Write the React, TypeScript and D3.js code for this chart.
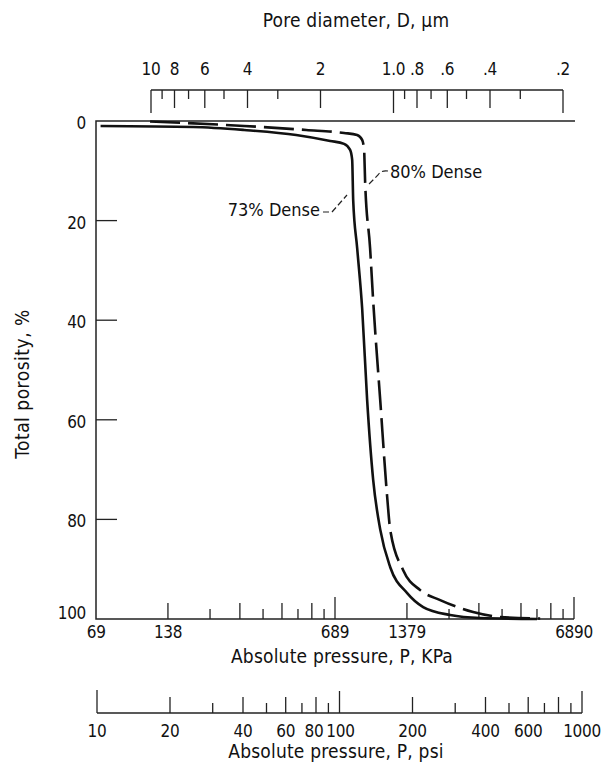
import React, { useEffect, useRef } from 'react'
import * as d3 from 'd3'

// 73% dense specimen: absolute pressure (kPa) vs total porosity (%)
const densePressure73 = [72, 176, 287, 474, 658, 752, 797, 813, 821, 853, 895, 939, 995, 1065, 1173, 1381, 1611, 2090, 2790, 4830]
const densePorosity73 = [1.0, 1.2, 1.8, 2.8, 4.0, 4.6, 5.8, 7.8, 15.9, 25.5, 37.6, 56, 72, 82, 89.6, 94.8, 97.6, 99.2, 99.8, 100]

// 80% dense specimen
const densePressure80 = [116, 287, 522, 752, 853, 895, 912, 921, 966, 995, 1065, 1139, 1173, 1329, 1565, 1898, 2607, 3383, 4975]
const densePorosity80 = [0.1, 1.0, 1.8, 2.4, 2.8, 3.8, 5.8, 12.2, 25.5, 36, 56, 75.5, 82.1, 90.2, 94.2, 96.2, 98.6, 99.6, 99.9]

const porosityTicks = [0, 20, 40, 60, 80, 100]
const kpaLabels = [69, 138, 689, 1379, 6890]
const psiTicks = [10, 20, 30, 40, 50, 60, 70, 80, 90, 100, 200, 300, 400, 500, 600, 700, 800, 900, 1000]
const psiLabels = [10, 20, 40, 60, 80, 100, 200, 400, 600, 1000]
const diameterTicks = [10, 9, 8, 7, 6, 5, 4, 3, 2, 1, 0.9, 0.8, 0.7, 0.6, 0.5, 0.4, 0.3, 0.2]
const diameterLabels = ['10', '8', '6', '4', '2', '1.0', '.8', '.6', '.4', '.2']

const FONT = '"DejaVu Sans Condensed", "Liberation Sans Narrow", sans-serif'

function PorosityChart() {
  const ref = useRef<SVGSVGElement>(null)

  useEffect(() => {
    const svg = d3.select(ref.current)
    svg.selectAll('*').remove()

    const left = 96
    const top = 121
    const bottom = 619
    const right = 574

    const x = d3.scaleLog().domain([68.9, 6890]).range([left, right])
    const y = d3.scaleLinear().domain([0, 100]).range([top, bottom])
    const xd = d3.scaleLog().domain([10, 0.2]).range([151, 563])
    const xp = d3.scaleLog().domain([10, 1000]).range([97, 582])

    const g = svg.append('g')
      .attr('font-family', FONT)
      .attr('fill', '#111')

    const title = (tx: number, ty: number, s: string) =>
      g.append('text')
        .attr('x', tx).attr('y', ty)
        .attr('dy', '0.35em')
        .attr('text-anchor', 'middle')
        .attr('font-size', 19)
        .attr('letter-spacing', 0.2)
        .text(s)

    const tickText = (sel: any) =>
      sel.attr('dy', '0.35em')
        .attr('font-size', 17)
        .attr('letter-spacing', -0.3)

    // Frame
    g.append('path')
      .attr('d', `M${right + 1},${top} H${left} V${bottom} H${right}`)
      .attr('fill', 'none')
      .attr('stroke', '#222')
      .attr('stroke-width', 1.5)

    // Y ticks + labels
    g.selectAll('.yt')
      .data(porosityTicks.filter(d => d > 0 && d < 100))
      .enter().append('line')
      .attr('x1', left).attr('x2', left + 21)
      .attr('y1', d => y(d)).attr('y2', d => y(d))
      .attr('stroke', '#222').attr('stroke-width', 1.3)

    g.selectAll('.yl')
      .data(porosityTicks)
      .enter().append('text')
      .attr('x', 86)
      .attr('y', d => y(d) + (d === 100 ? -6 : 2))
      .attr('text-anchor', 'end')
      .call(tickText)
      .text(d => String(d))

    g.append('text')
      .attr('transform', `translate(22, 384) rotate(-90)`)
      .attr('text-anchor', 'middle')
      .attr('dy', '0.35em')
      .attr('font-size', 19)
      .attr('letter-spacing', 0.5)
      .text('Total porosity, %')

    // Bottom kPa axis (ticks at psi-equivalent positions)
    const tickLen = (p: number) => {
      const m = p >= 100 ? p / 100 : p / 10
      if (p === 100 || p === 1000) return 22
      return m % 2 === 0 ? 16 : 10
    }

    g.selectAll('.kt')
      .data(psiTicks.filter(p => p > 10))
      .enter().append('line')
      .attr('x1', p => x(p * 6.89)).attr('x2', p => x(p * 6.89))
      .attr('y1', bottom).attr('y2', p => bottom - tickLen(p))
      .attr('stroke', '#222').attr('stroke-width', 1.3)

    g.selectAll('.kl')
      .data(kpaLabels)
      .enter().append('text')
      .attr('x', d => x(d))
      .attr('y', 632)
      .attr('text-anchor', 'middle')
      .call(tickText)
      .text(d => String(d))

    title(342, 656, 'Absolute pressure, P, KPa')

    // psi axis
    const pa = 713
    g.append('line')
      .attr('x1', xp(10)).attr('x2', xp(1000))
      .attr('y1', pa).attr('y2', pa)
      .attr('stroke', '#222').attr('stroke-width', 1.5)

    g.selectAll('.pt')
      .data(psiTicks)
      .enter().append('line')
      .attr('x1', p => xp(p)).attr('x2', p => xp(p))
      .attr('y1', pa).attr('y2', p => pa - (p === 10 ? 23 : tickLen(p)))
      .attr('stroke', '#222').attr('stroke-width', 1.3)

    g.selectAll('.pl')
      .data(psiLabels)
      .enter().append('text')
      .attr('x', d => xp(d) + (d === 80 ? -2 : d === 100 ? 1 : 0))
      .attr('y', 731)
      .attr('text-anchor', 'middle')
      .call(tickText)
      .text(d => String(d))

    title(336, 751, 'Absolute pressure, P, psi')

    // Top pore diameter axis
    const da = 90
    g.append('line')
      .attr('x1', xd(10)).attr('x2', xd(0.2))
      .attr('y1', da).attr('y2', da)
      .attr('stroke', '#222').attr('stroke-width', 1.5)

    const labelled = diameterLabels.map(s => +s)
    g.selectAll('.dt')
      .data(diameterTicks)
      .enter().append('line')
      .attr('x1', d => xd(d)).attr('x2', d => xd(d))
      .attr('y1', da)
      .attr('y2', d => da + (d === 10 || d === 1 || d === 0.2 ? 23 : labelled.includes(d) ? 18 : 9))
      .attr('stroke', '#222').attr('stroke-width', 1.3)

    g.selectAll('.dl')
      .data(diameterLabels)
      .enter().append('text')
      .attr('x', d => xd(+d))
      .attr('y', 69)
      .attr('text-anchor', 'middle')
      .call(tickText)
      .text(d => d)

    title(356, 20, 'Pore diameter, D, \u00b5m')

    // Curves
    const line = d3.line<[number, number]>()
      .x(d => x(d[0]))
      .y(d => y(d[1]))
      .curve(d3.curveMonotoneX)

    g.append('path')
      .datum(d3.zip(densePressure73, densePorosity73) as [number, number][])
      .attr('d', line)
      .attr('fill', 'none')
      .attr('stroke', '#111')
      .attr('stroke-width', 2.6)

    g.append('path')
      .datum(d3.zip(densePressure80, densePorosity80) as [number, number][])
      .attr('d', line)
      .attr('fill', 'none')
      .attr('stroke', '#111')
      .attr('stroke-width', 2.6)
      .attr('stroke-dasharray', '30,8')

    // Annotations
    g.append('text')
      .attr('x', 390).attr('y', 172)
      .attr('dy', '0.35em')
      .attr('font-size', 18)
      .text('80% Dense')
    g.append('path')
      .attr('d', 'M388,171 Q381,170 378,175 L368,185')
      .attr('fill', 'none').attr('stroke', '#222').attr('stroke-width', 1.2)
      .attr('stroke-dasharray', '6,3')

    g.append('text')
      .attr('x', 320).attr('y', 210)
      .attr('dy', '0.35em')
      .attr('text-anchor', 'end')
      .attr('font-size', 18)
      .text('73% Dense')
    g.append('path')
      .attr('d', 'M323,212 L332,212 L347,195')
      .attr('fill', 'none').attr('stroke', '#222').attr('stroke-width', 1.2)
      .attr('stroke-dasharray', '6,3')
  }, [])

  return (
    <svg ref={ref} width={605} height={767}
      style={{ position: 'absolute', left: 0, top: 0, background: '#fff' }} />
  )
}

export default function App() {
  return <PorosityChart />
}
